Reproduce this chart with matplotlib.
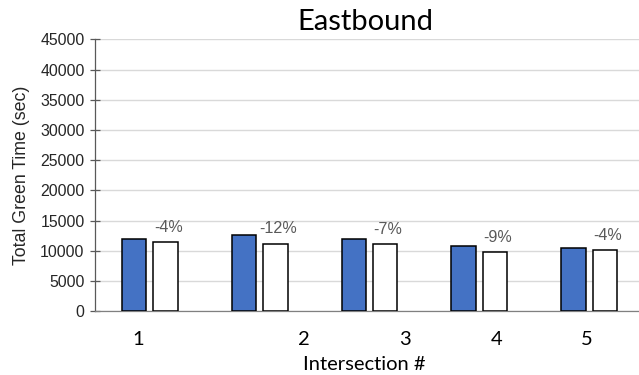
import matplotlib
matplotlib.use("Agg")
import matplotlib.pyplot as plt
import numpy as np

# Total green time per intersection, eastbound approach
intersections = ["1", "2", "3", "4", "5"]
before_sec = [11950, 12680, 11950, 10760, 10500]
after_sec = [11450, 11180, 11100, 9780, 10080]
change_labels = ["-4%", "-12%", "-7%", "-9%", "-4%"]
# where the intersection numbers sit along the axis
label_positions = [-0.108, 1.40, 2.325, 3.157, 3.98]
y_ticks = list(range(0, 45001, 5000))

W, H = 639, 375
fig = plt.figure(figsize=(W / 100, H / 100), dpi=100)
ax = fig.add_axes([95 / W, (H - 311.3) / H, 549 / W, 272 / H])

x = np.arange(len(intersections))
bw = 0.223
off = 0.143
ax.bar(x - off, before_sec, width=bw, color="#4472C4", edgecolor="black",
       linewidth=1.1, zorder=3)
ax.bar(x + off, after_sec, width=bw, color="white", edgecolor="black",
       linewidth=1.1, zorder=3)

for xi, v, lab in zip(x, after_sec, change_labels):
    ax.annotate(lab, (xi + off, v), xytext=(2.8, 15), textcoords="offset pixels",
                ha="center", va="center", fontsize=11.6, color="#595959",
                family="Liberation Sans")

ax.set_xlim(-0.5, 4.5)
ax.set_ylim(0, 45000)
ax.set_yticks(y_ticks)
ax.set_yticklabels([str(t) for t in y_ticks], family="Liberation Sans",
                   fontsize=11.4, color="#262626")
ax.tick_params(axis="y", direction="inout", length=7, width=0.9,
               color="#595959", pad=4)
ax.set_xticks(label_positions)
ax.set_xticklabels(intersections, family="Lato", fontsize=14.5, color="black")
ax.tick_params(axis="x", length=0, pad=14)

ax.grid(axis="y", color="#d9d9d9", linewidth=1.0, zorder=0)
ax.set_axisbelow(True)
for s in ("top", "right"):
    ax.spines[s].set_visible(False)
ax.spines["left"].set_color("#595959")
ax.spines["left"].set_linewidth(0.9)
ax.spines["bottom"].set_color("#808080")
ax.spines["bottom"].set_linewidth(0.9)

ax.set_ylabel("Total Green Time (sec)", family="Liberation Sans", fontsize=12.8,
              color="#262626")
ax.yaxis.set_label_coords(-(95 - 30) / 549, 0.5)

fig.text(365 / W, 1 - 22 / H, "Eastbound", family="Lato", fontsize=21,
         ha="center", va="center", color="black")
fig.text(364.5 / W, 1 - 364.3 / H, "Intersection #", family="Lato",
         fontsize=14.5, ha="center", va="center", color="black")

fig.savefig("out.png", dpi=100)
